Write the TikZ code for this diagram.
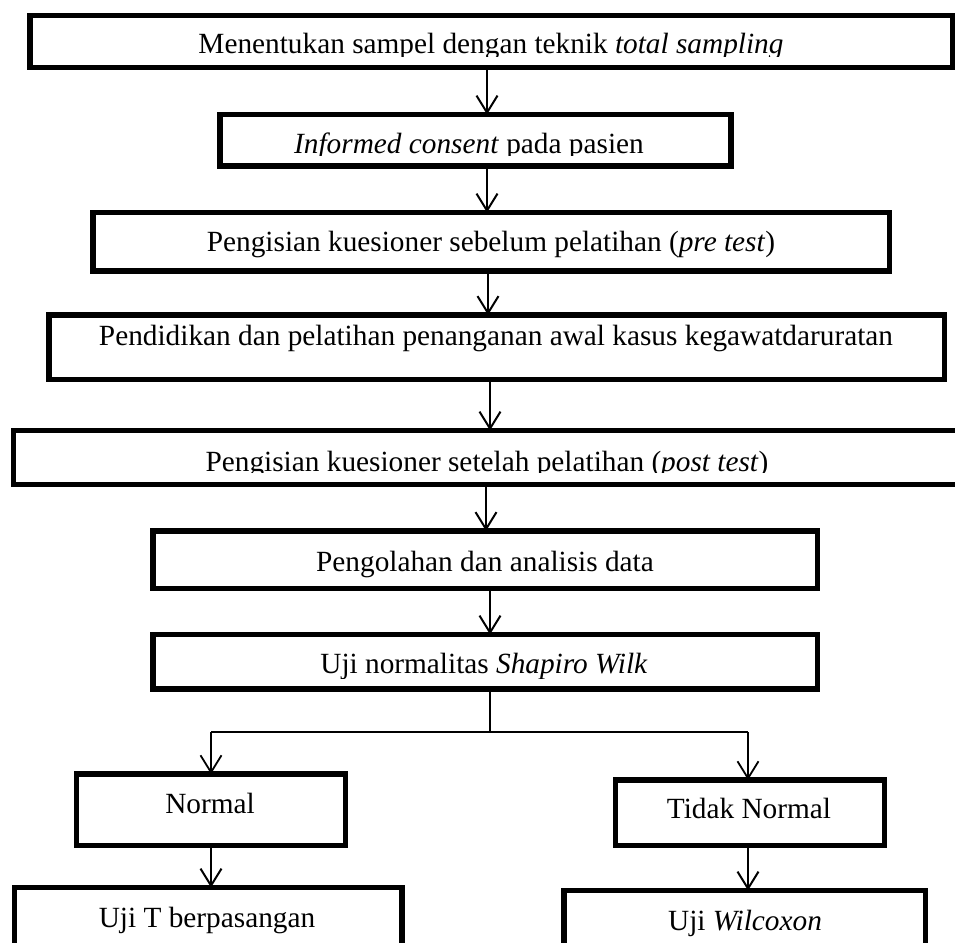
\documentclass[tikz,border=0pt]{standalone}
\usepackage{fontspec}
\setmainfont{Liberation Serif}
\usetikzlibrary{arrows.meta,calc}
\begin{document}
\begin{tikzpicture}[x=1pt,y=-1pt,
  fbox/.style={draw=black,line width=5.5pt,rectangle,outer sep=0pt,inner sep=0pt},
  txt/.style={anchor=base,inner sep=0pt,outer sep=0pt,font=\fontsize{29.3}{34}\selectfont},
  arr/.style={draw=black,line width=2pt,-{Straight Barb[length=17pt,width=21pt]}},
  ln/.style={draw=black,line width=1.8pt}]
\useasboundingbox (0,0) rectangle (955,942);
\clip (0,0) rectangle (955,942);
\fill[white] (0,0) rectangle (955,942);
% texts (some clipped at the bottom as in the reference)
\begin{scope}
\clip (30,15) rectangle (952,57);
\node[txt] (t1) at (491,54) {Menentukan sampel dengan teknik \textit{total sampling}};
\end{scope}
\begin{scope}
\clip (220,114) rectangle (731,155);
\node[txt] (t2) at (469,153) {\textit{Informed consent} pada pasien};
\end{scope}
\node[txt] (t3) at (491,251) {Pengisian kuesioner sebelum pelatihan (\textit{pre test})};
\node[txt] (t4) at (496,345) {Pendidikan dan pelatihan penanganan awal kasus kegawatdaruratan};
\begin{scope}
\clip (13,430) rectangle (975,472.5);
\node[txt] (t5) at (487,471) {Pengisian kuesioner setelah pelatihan (\textit{post test})};
\end{scope}
\node[txt] (t6) at (485,571) {Pengolahan dan analisis data};
\begin{scope}
\clip (153,634) rectangle (818,678);
\node[txt] (t7) at (484,673) {Uji normalitas \textit{Shapiro Wilk}};
\end{scope}
\node[txt] (t8) at (210,813) {Normal};
\node[txt] (t9) at (749,818) {Tidak Normal};
\node[txt] (t10) at (207,927) {Uji T berpasangan};
\node[txt] (t11) at (745,930) {Uji \textit{Wilcoxon}};
% boxes
\node[fbox,minimum width=922.5pt,minimum height=52pt] (b1) at (491.25,41.5) {};
\node[fbox,minimum width=511pt,minimum height=51.5pt] (b2) at (475.5,140.25) {};
\node[fbox,minimum width=796.5pt,minimum height=58.5pt] (b3) at (491.25,241.75) {};
\node[fbox,minimum width=895.5pt,minimum height=64.5pt] (b4) at (496.75,347.25) {};
\node[fbox,minimum width=961.5pt,minimum height=54pt] (b5) at (494.25,457.5) {};
\node[fbox,minimum width=664.5pt,minimum height=57.5pt] (b6) at (485.25,559.75) {};
\node[fbox,minimum width=664.5pt,minimum height=54.5pt] (b7) at (485.25,661.75) {};
\node[fbox,minimum width=269pt,minimum height=71.5pt] (b8) at (211,809.75) {};
\node[fbox,minimum width=269pt,minimum height=65.5pt] (b9) at (750,812.75) {};
\node[fbox,minimum width=387.5pt,minimum height=72.5pt] (b10) at (208.25,923.75) {};
\node[fbox,minimum width=361.5pt,minimum height=69.5pt] (b11) at (744.75,925.25) {};
% connector columns
\coordinate (c1) at (487,0);
\coordinate (c2) at (487,0);
\coordinate (c3) at (488,0);
\coordinate (c4) at (490,0);
\coordinate (c5) at (486,0);
\coordinate (c6) at (490,0);
\coordinate (cL) at (211,0);
\coordinate (cR) at (748,0);
\coordinate (split) at (490,732);
\coordinate (sL) at (211,732);
\coordinate (sR) at (748,732);
% connectors
\draw[arr] (b1.south -| c1) -- (b2.north -| c1);
\draw[arr] (b2.south -| c2) -- (b3.north -| c2);
\draw[arr] (b3.south -| c3) -- (b4.north -| c3);
\draw[arr] (b4.south -| c4) -- (b5.north -| c4);
\draw[arr] (b5.south -| c5) -- (b6.north -| c5);
\draw[arr] (b6.south -| c6) -- (b7.north -| c6);
\draw[ln] (b7.south -| split) -- (split);
\draw[ln] (sL) -- (sR);
\draw[ln,-{Straight Barb[length=17pt,width=21pt]}] (sL) -- (b8.north -| cL);
\draw[ln,-{Straight Barb[length=17pt,width=21pt]}] (sR) -- (b9.north -| cR);
\draw[arr] (b8.south -| cL) -- (b10.north -| cL);
\draw[arr] (b9.south -| cR) -- (b11.north -| cR);
\end{tikzpicture}
\end{document}
